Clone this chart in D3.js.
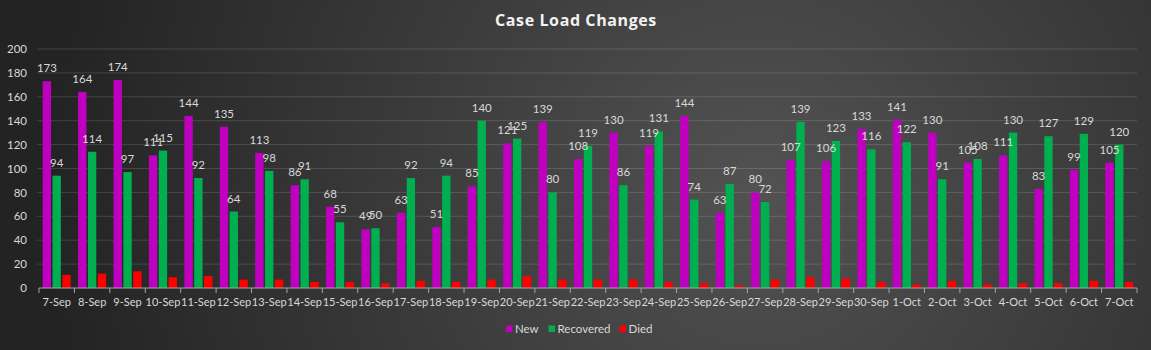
<!DOCTYPE html>
<html>
<head>
<meta charset="utf-8">
<script src="https://cdn.jsdelivr.net/npm/d3@7"></script>
<style>
  html, body { margin: 0; padding: 0; background: #2a2a2a; }
  svg { display: block; }
</style>
</head>
<body>
<div id="chart"></div>
<script>
// data
const dates = ["7-Sep","8-Sep","9-Sep","10-Sep","11-Sep","12-Sep","13-Sep","14-Sep","15-Sep","16-Sep",
  "17-Sep","18-Sep","19-Sep","20-Sep","21-Sep","22-Sep","23-Sep","24-Sep","25-Sep","26-Sep",
  "27-Sep","28-Sep","29-Sep","30-Sep","1-Oct","2-Oct","3-Oct","4-Oct","5-Oct","6-Oct","7-Oct"];
const newCases = [173,164,174,111,144,135,113,86,68,49,63,51,85,121,139,108,130,119,144,63,80,107,106,133,141,130,105,111,83,99,105];
const recovered = [94,114,97,115,92,64,98,91,55,50,92,94,140,125,80,119,86,131,74,87,72,139,123,116,122,91,108,130,127,129,120];
const died = [11,12,14,9,10,7,7,5,5,4,6,5,7,10,7,7,7,5,4,2,7,9,8,5,3,6,3,4,4,6,5];
const seriesNames = ["New", "Recovered", "Died"];
const seriesColors = ["#c000c0", "#00b050", "#ff0000"];
const yTicks = [0, 20, 40, 60, 80, 100, 120, 140, 160, 180, 200];

(() => {
  const width = 1151, height = 350;
  const margin = { top: 49, right: 14, bottom: 62, left: 39 };
  const innerWidth = width - margin.left - margin.right;
  const innerHeight = height - margin.top - margin.bottom;
  const labelFont = "Lato, 'Open Sans', sans-serif";

  const svg = d3.select("#chart").append("svg")
    .attr("width", width)
    .attr("height", height)
    .attr("font-family", labelFont);

  // background gradient
  const defs = svg.append("defs");
  const grad = defs.append("radialGradient")
    .attr("id", "bg")
    .attr("cx", "66%").attr("cy", "55%").attr("r", "62%")
    .attr("gradientTransform", "translate(0.66,0.55) scale(1,3.2) translate(-0.66,-0.55)");
  grad.append("stop").attr("offset", "0%").attr("stop-color", "#525252");
  grad.append("stop").attr("offset", "100%").attr("stop-color", "#232323");

  svg.append("rect")
    .attr("width", width).attr("height", height)
    .attr("fill", "url(#bg)");

  // title
  svg.append("text")
    .attr("x", 576).attr("y", 26)
    .attr("text-anchor", "middle")
    .attr("fill", "#f2f2f2")
    .attr("font-size", 16)
    .attr("font-weight", "bold")
    .attr("font-family", "'Open Sans', sans-serif")
    .attr("letter-spacing", 0.6)
    .text("Case Load Changes");

  const g = svg.append("g")
    .attr("transform", `translate(${margin.left},${margin.top})`);

  // scales
  const x = d3.scaleBand().domain(dates).range([0, innerWidth]).padding(0);
  const xs = d3.scaleBand().domain(seriesNames).range([3.7, 31.7]).paddingInner(0.15);
  const y = d3.scaleLinear().domain([0, 200]).range([innerHeight, 0]);

  // gridlines
  g.append("g")
    .selectAll("line")
    .data(yTicks.slice(1))
    .join("line")
    .attr("x1", -2).attr("x2", innerWidth)
    .attr("y1", d => y(d)).attr("y2", d => y(d))
    .attr("stroke", "#ffffff")
    .attr("stroke-opacity", 0.14)
    .attr("stroke-width", 1);

  // y axis labels
  const yAxis = g.append("g")
    .call(d3.axisLeft(y).tickValues(yTicks).tickSize(0).tickPadding(12));
  yAxis.select(".domain").remove();
  yAxis.selectAll("text")
    .attr("fill", "#d9d9d9")
    .attr("font-size", 11.5)
    .attr("font-family", labelFont);

  // bars
  const rows = dates.map((d, i) => ({
    date: d,
    values: [newCases[i], recovered[i], died[i]]
  }));

  const groups = g.selectAll(".day")
    .data(rows)
    .join("g")
    .attr("class", "day")
    .attr("transform", d => `translate(${x(d.date)},0)`);

  groups.selectAll("rect")
    .data(d => d.values.map((v, k) => ({ key: seriesNames[k], value: v, k })))
    .join("rect")
    .attr("x", d => xs(d.key))
    .attr("y", d => y(d.value))
    .attr("width", xs.bandwidth())
    .attr("height", d => innerHeight - y(d.value))
    .attr("fill", d => seriesColors[d.k]);

  // value labels for New and Recovered
  groups.selectAll("text")
    .data(d => d.values.slice(0, 2).map((v, k) => ({ key: seriesNames[k], value: v })))
    .join("text")
    .attr("x", d => xs(d.key) + xs.bandwidth() / 2)
    .attr("y", d => y(d.value) - 9)
    .attr("text-anchor", "middle")
    .attr("fill", "#d9d9d9")
    .attr("font-size", 11.5)
    .text(d => d.value);

  // x axis: line with ticks at category boundaries
  const xAxisG = g.append("g").attr("transform", `translate(0,${innerHeight})`);
  xAxisG.append("line")
    .attr("x1", 0).attr("x2", innerWidth)
    .attr("stroke", "#a6a6a6");
  xAxisG.selectAll(".tick-mark")
    .data(d3.range(dates.length + 1))
    .join("line")
    .attr("class", "tick-mark")
    .attr("x1", i => i * x.step()).attr("x2", i => i * x.step())
    .attr("y1", 0).attr("y2", 5)
    .attr("stroke", "#a6a6a6");

  const xLabels = xAxisG.append("g")
    .call(d3.axisBottom(x).tickSize(0).tickPadding(10));
  xLabels.select(".domain").remove();
  xLabels.selectAll("text")
    .attr("fill", "#d9d9d9")
    .attr("font-size", 11)
    .attr("font-family", labelFont);

  // legend
  const legendX = [506, 548.5, 619.5];
  const legend = svg.append("g");
  seriesNames.forEach((name, k) => {
    legend.append("rect")
      .attr("x", legendX[k]).attr("y", 325.5)
      .attr("width", 6.5).attr("height", 6.5)
      .attr("fill", seriesColors[k]);
    legend.append("text")
      .attr("x", legendX[k] + 9).attr("y", 333)
      .attr("fill", "#d9d9d9")
      .attr("font-size", 11.5)
      .text(name);
  });
})();
</script>
</body>
</html>
